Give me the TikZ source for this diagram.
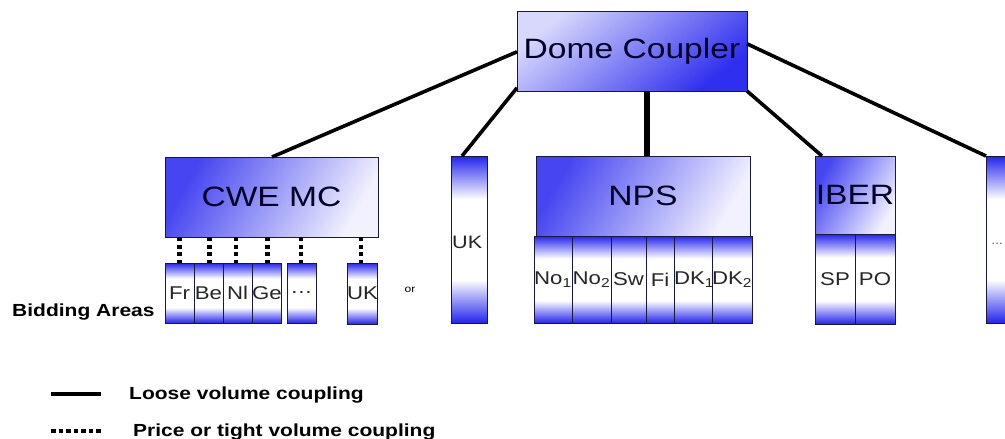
\documentclass[tikz,border=0pt]{standalone}
\usepackage{fontspec}
\setmainfont{Liberation Sans}
\usetikzlibrary{calc}
\definecolor{bb}{RGB}{36,36,238}
\definecolor{edge}{RGB}{25,25,60}
\newcommand\hstr[1]{\scalebox{1.2}[1]{#1}}
\pgfdeclareverticalshading{subsh}{100bp}{color(0bp)=(bb); color(25bp)=(bb); color(38bp)=(white); color(62bp)=(white); color(75bp)=(bb); color(100bp)=(bb)}
\begin{document}
\begin{tikzpicture}[x=1pt,y=-1pt,
  box/.style={draw=edge, line width=0.7pt, inner sep=0pt, outer sep=0pt, anchor=north west},
  subbox/.style={box, shading=subsh, font=\fontsize{18.5}{18.5}\selectfont, text=black!85},
  domebox/.style={box, top color=bb!18!white, middle color=bb!5!white, bottom color=bb!95!white, shading angle=40, font=\fontsize{28}{28}\selectfont, text=black!85!blue},
  mainbox/.style={box, top color=bb!85!white, middle color=bb!28!white, bottom color=bb!6!white, shading angle=60, font=\fontsize{28}{28}\selectfont, text=black!85!blue},
  loose/.style={line width=3.6pt},
  tight/.style={line width=#1, dash pattern=on 4pt off 3.5pt},
  tight/.default=5pt,
  lbl/.style={font=\fontsize{17.5}{17.5}\selectfont\bfseries, anchor=base west, inner sep=0pt}
]
\clip (0,0) rectangle (1005,439);
\fill[white] (0,0) rectangle (1005,439);

% top node
\node[domebox, minimum width=230pt, minimum height=80pt] (dome) at (517,11) {\hstr{Dome Coupler}};

% CWE MC
\node[mainbox, minimum width=213pt, minimum height=80pt] (cwe) at (165,157) {\hstr{CWE MC}};
\node[subbox, minimum width=29pt, minimum height=60pt] (fr) at (165,263) {\hstr{Fr}};
\node[subbox, minimum width=29pt, minimum height=60pt] (be) at (194,263) {\hstr{Be}};
\node[subbox, minimum width=29pt, minimum height=60pt] (nl) at (223,263) {\hstr{Nl}};
\node[subbox, minimum width=29pt, minimum height=60pt] (ge) at (252,263) {\hstr{Ge}};
\node[subbox, minimum width=29pt, minimum height=60pt] (dots1) at (287,263) {\hstr{\dots}};
\node[subbox, minimum width=30pt, minimum height=61pt] (uks) at (347,263) {\hstr{UK}};

\node[font=\fontsize{10}{10}\selectfont, anchor=base, inner sep=0pt] (or) at (410,292) {\hstr{or}};

% UK tall
\node[box, shading=subsh, minimum width=36pt, minimum height=167pt] (ukt) at (451,156) {};
\node[font=\fontsize{18}{18}\selectfont, text=black!85, anchor=west, inner sep=1pt] (uktl) at (ukt.west |- 0,242) {\hstr{UK}};

% NPS
\node[mainbox, minimum width=214pt, minimum height=80pt] (nps) at (536,156) {\hstr{NPS}};
\node[subbox, minimum width=38pt, minimum height=87pt] (no1) at (534,236) {\hstr{No\textsubscript{1}}};
\node[subbox, minimum width=39pt, minimum height=87pt] (no2) at (572,236) {\hstr{No\textsubscript{2}}};
\node[subbox, minimum width=35pt, minimum height=87pt] (sw) at (611,236) {\hstr{Sw}};
\node[subbox, minimum width=28pt, minimum height=87pt] (fi) at (646,236) {\hstr{Fi}};
\node[subbox, minimum width=38pt, minimum height=87pt] (dk1) at (674,236) {\hstr{DK\textsubscript{1}}};
\node[subbox, minimum width=38pt, minimum height=87pt] (dk2) at (712,236) {\hstr{DK\textsubscript{2}}};

% IBER
\node[mainbox, minimum width=80pt, minimum height=78pt] (iber) at (815,156) {\hstr{IBER}};
\node[subbox, minimum width=40pt, minimum height=90pt] (sp) at (815,234) {\hstr{SP}};
\node[subbox, minimum width=40pt, minimum height=90pt] (po) at (855,234) {\hstr{PO}};

% last (cut off)
\node[box, shading=subsh, minimum width=40pt, minimum height=167pt] (last) at (986,156) {};
\node[font=\fontsize{12}{12}\selectfont, text=black!70, anchor=west, inner sep=0pt] (lastl) at (991,244) {\dots};

% loose couplings
\coordinate (dA) at ($(dome.north west)!0.51!(dome.south west)$);
\coordinate (dB) at ($(dome.north west)!0.96!(dome.south west)$);
\coordinate (dC) at ($(dome.north east)!0.41!(dome.south east)$);
\draw[loose] (dA) -- (cwe.north -| 272,0);
\draw[loose] (dB) -- ($(ukt.north west)+(11,0)$);
\draw[line width=5.5pt] (dome.south -| 647,0) -- (nps.north -| 647,0);
\draw[loose] (dome.south east) -- ($(iber.north west)+(7,0)$);
\draw[loose] (dC) -- (last.north west);

% tight couplings
\draw[tight=5.5pt] (cwe.south -| fr) -- (fr.north);
\draw[tight=5pt] (cwe.south -| 209,0) -- (be.north -| 209,0);
\draw[tight=3.5pt] (cwe.south -| 236,0) -- (nl.north -| 236,0);
\draw[tight=5pt] (cwe.south -| 267,0) -- (ge.north -| 267,0);
\draw[tight=3.5pt] (cwe.south -| 301,0) -- (dots1.north -| 301,0);
\draw[tight=4pt] (cwe.south -| 361,0) -- (uks.north -| 361,0);

% labels
\node[lbl] (bid) at (12,316) {\hstr{Bidding Areas}};

% legend
\coordinate (l1a) at (51,394);
\coordinate (l1b) at (101,394);
\draw[line width=4.5pt] (l1a) -- (l1b);
\node[lbl] (leg1) at (129,399) {\hstr{Loose volume coupling}};
\coordinate (l2a) at (51,431);
\coordinate (l2b) at (103,431);
\draw[line width=4.5pt, dash pattern=on 4.5pt off 3pt] (l2a) -- (l2b);
\node[lbl] (leg2) at (133,436) {\hstr{Price or tight volume coupling}};
\end{tikzpicture}
\end{document}
